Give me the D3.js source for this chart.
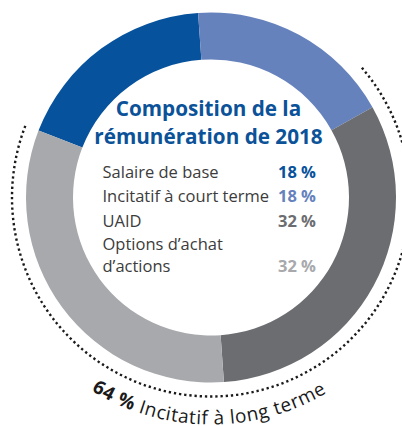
<!DOCTYPE html>
<meta charset="utf-8">
<head>
<script src="https://d3js.org/d3.v7.min.js"></script>
<style>
body { margin: 0; background: #fff; }
text { font-family: "Open Sans", sans-serif; }
</style>
</head>
<body>
<script>

// Chart data
var categories = ["Salaire de base", "Incitatif à court terme", "UAID", "Options d’achat d’actions"];
var labelLines = [["Salaire de base"], ["Incitatif à court terme"], ["UAID"], ["Options d’achat", "d’actions"]];
var values = [18, 18, 32, 32];
var colors = ["#07529c", "#6582bd", "#6c6d71", "#a7a9ac"];
var titleLines = ["Composition de la", "rémunération de 2018"];
var longTermValue = 64;
var longTermLabel = "Incitatif à long terme";
var longTermParts = [2, 3];   // indexes of UAID + options

var width = 402, height = 426;
var cx = 211, cy = 197.5;
var outerR = 185, innerR = 138;
var deg = Math.PI / 180;

var svg = d3.select("body").append("svg")
    .attr("width", width)
    .attr("height", height);

var g = svg.append("g")
    .attr("transform", "translate(" + cx + "," + cy + ")");

// pie starts where the dark blue slice begins (upper left)
var start = -68.8 * deg;
var pie = d3.pie()
    .sort(null)
    .value(function(d) { return d; })
    .startAngle(start)
    .endAngle(start + 2 * Math.PI);

var arcs = pie(values);

var arc = d3.arc()
    .innerRadius(innerR)
    .outerRadius(outerR);

g.selectAll(".slice")
    .data(arcs)
    .enter().append("path")
    .attr("class", "slice")
    .attr("d", arc)
    .attr("fill", function(d, i) { return colors[i]; });

// dotted arc around the long term part
var ltStart = arcs[longTermParts[0]].startAngle - 11.5 * deg;
var ltEnd = arcs[longTermParts[1]].endAngle + 0.5 * deg;

var dotPath = d3.path();
dotPath.arc(0, 0, 199, ltStart - Math.PI / 2, ltEnd - Math.PI / 2, false);
g.append("path")
    .attr("d", dotPath.toString())
    .attr("fill", "none")
    .attr("stroke", "#1a1a1a")
    .attr("stroke-width", 2.4)
    .attr("stroke-dasharray", "2.3 2.9");

// curved label below
var labelR = 227;
var mid = Math.PI + 0.5 * deg;
var a1 = mid + 80 * deg, a2 = mid - 80 * deg;
var labelPath = d3.path();
labelPath.arc(0, 0, labelR, a1 - Math.PI / 2, a2 - Math.PI / 2, true);
g.append("path")
    .attr("id", "ltPath")
    .attr("d", labelPath.toString())
    .attr("fill", "none");

var lt = g.append("text")
    .attr("font-size", 19)
    .attr("letter-spacing", 0.6)
    .attr("fill", "#1a1a1a")
    .append("textPath")
    .attr("href", "#ltPath")
    .attr("startOffset", "50%")
    .attr("text-anchor", "middle");
lt.append("tspan")
    .attr("font-weight", "bold")
    .text(longTermValue + " %");
lt.append("tspan")
    .text(" " + longTermLabel);

// title
g.selectAll(".title")
    .data(titleLines)
    .enter().append("text")
    .attr("class", "title")
    .attr("x", -2.5)
    .attr("y", function(d, i) { return -82 + i * 28; })
    .attr("text-anchor", "middle")
    .attr("font-size", 20.7)
    .attr("font-weight", "bold")
    .attr("fill", "#0b5299")
    .text(function(d) { return d; });

// legend rows
var rowY = [-19.8, 4.2, 29.2, 52.5];
var legendX = -108.5, valueX = 105;

var rows = g.selectAll(".row")
    .data(values)
    .enter().append("g")
    .attr("class", "row")
    .attr("transform", function(d, i) { return "translate(0," + rowY[i] + ")"; });

rows.append("text")
    .attr("x", legendX)
    .attr("font-size", 16.5)
    .attr("fill", "#3c3c3c")
    .selectAll("tspan")
    .data(function(d, i) { return labelLines[i]; })
    .enter().append("tspan")
    .attr("x", legendX)
    .attr("dy", function(d, j) { return j === 0 ? 0 : 21.7; })
    .text(function(d) { return d; });

rows.append("text")
    .attr("x", valueX)
    .attr("y", function(d, i) { return (labelLines[i].length - 1) * 21.7; })
    .attr("text-anchor", "end")
    .attr("font-size", 16.5)
    .attr("font-weight", "bold")
    .attr("fill", function(d, i) { return colors[i]; })
    .text(function(d) { return d + " %"; });

</script>
</body>
